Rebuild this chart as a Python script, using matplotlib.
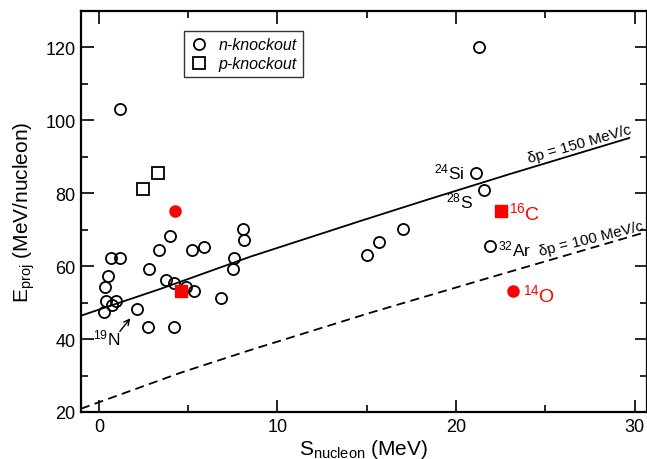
import matplotlib
matplotlib.use("Agg")
import matplotlib.pyplot as plt
from matplotlib.ticker import MultipleLocator

plt.rcParams['font.family'] = ['Liberation Sans', 'DejaVu Sans']
plt.rcParams['mathtext.fontset'] = 'custom'
plt.rcParams['mathtext.rm'] = 'Liberation Sans'
plt.rcParams['mathtext.it'] = 'Liberation Sans:italic'
plt.rcParams['mathtext.default'] = 'rm'

# n-knockout (open circles)
n_S = [1.2, 21.3, 21.1, 21.56, 4.0, 8.06, 8.15, 3.37, 5.22, 5.87, 0.70, 1.20, 7.59, 7.52,
       2.81, 0.51, 0.36, 3.78, 4.23, 4.86, 5.31, 6.84, 0.42, 0.98, 0.74, 0.27, 2.14, 2.76,
       4.19, 15.02, 15.7, 17.04, 21.93]
n_E = [103, 120, 85.6, 80.8, 68.2, 70.2, 67.1, 64.3, 64.3, 65.2, 62.3, 62.3, 62.3, 59.3,
       59.3, 57.3, 54.2, 56.3, 55.3, 54.2, 53.3, 51.3, 50.3, 50.3, 49.2, 47.4, 48.3, 43.3,
       43.3, 63.1, 66.6, 70.2, 65.4]
# p-knockout (open squares)
p_S = [2.47, 3.3]
p_E = [81.0, 85.6]
# highlighted (red) points
red_circ_S = [4.25, 23.18]
red_circ_E = [75.1, 53.2]
red_sq_S = [4.6, 22.53]
red_sq_E = [53.2, 75.1]

# reference curves
line150_S = [-1.0, 3.6, 8.5, 14.8, 18.4, 23.0, 29.7]
line150_E = [46.4, 54.0, 62.6, 72.6, 78.2, 85.2, 95.1]
line100_S = [-1.0, 4.6, 8.5, 15.2, 22.0, 30.7]
line100_E = [20.9, 30.8, 37.0, 47.2, 57.0, 69.4]

fig = plt.figure(figsize=(6.47, 4.6), dpi=100)
ax = fig.add_axes([81/647, 47/460, 566/647, 401.3/460])

ax.plot(line150_S, line150_E, color='black', lw=1.3)
ax.plot(line100_S, line100_E, color='black', lw=1.3, dashes=(5, 3))

ax.plot(n_S, n_E, 'o', ms=8, mfc='none', mec='black', mew=1.3, label='n-knockout')
ax.plot(p_S, p_E, 's', ms=8, mfc='none', mec='black', mew=1.3, label='p-knockout')
ax.plot(red_circ_S, red_circ_E, 'o', ms=8, color='#ff0000', mec='#ff0000')
ax.plot(red_sq_S, red_sq_E, 's', ms=8.5, color='#ff0000', mec='#ff0000')

ax.set_xlim(-1, 30.7)
ax.set_ylim(20, 130)
ax.xaxis.set_major_locator(MultipleLocator(10))
ax.xaxis.set_minor_locator(MultipleLocator(5))
ax.yaxis.set_major_locator(MultipleLocator(20))
ax.yaxis.set_minor_locator(MultipleLocator(10))
ax.set_yticks([20, 40, 60, 80, 100, 120])
ax.tick_params(which='both', direction='in', top=True, right=True, labelsize=13, width=1.2)
ax.tick_params(which='major', length=9, pad=4)
ax.tick_params(which='minor', length=5)
for s in ax.spines.values():
    s.set_linewidth(1.6)

ax.set_xlabel('S$_{\\mathrm{nucleon}}$ (MeV)', fontsize=15, labelpad=2)
ax.set_ylabel('E$_{\\mathrm{proj}}$ (MeV/nucleon)', fontsize=15, labelpad=6)

leg = ax.legend(loc='upper left', bbox_to_anchor=(0.167, 0.97), frameon=True, fancybox=False,
                edgecolor='black', prop={'style': 'italic', 'size': 11.5}, handletextpad=0.6,
                borderpad=0.4, labelspacing=0.25, handlelength=1.2)
leg.get_frame().set_linewidth(1.0)

ax.text(20.45, 86.0, '$^{24}$Si', fontsize=12.5, ha='right', va='center')
ax.text(20.95, 77.9, '$^{28}$S', fontsize=12.5, ha='right', va='center')
ax.text(22.35, 64.8, '$^{32}$Ar', fontsize=12.5, ha='left', va='center')
ax.text(22.95, 74.9, '$^{16}$C', fontsize=14, ha='left', va='center', color='#ff0000')
ax.text(23.75, 52.4, '$^{14}$O', fontsize=14, ha='left', va='center', color='#ff0000')
ax.text(-0.35, 40.4, '$^{19}$N', fontsize=12.5, ha='left', va='center')
ax.annotate('', xy=(1.86, 46.3), xytext=(1.08, 41.5),
            arrowprops=dict(arrowstyle='->', color='black', lw=1.0))

ax.text(26.9, 93.6, '\u03b4p = 150 MeV/c', fontsize=11, rotation=16, ha='center', va='center',
        rotation_mode='anchor')
ax.text(27.6, 67.7, '\u03b4p = 100 MeV/c', fontsize=11, rotation=14, ha='center', va='center',
        rotation_mode='anchor')

fig.savefig('out.png', dpi=100)
